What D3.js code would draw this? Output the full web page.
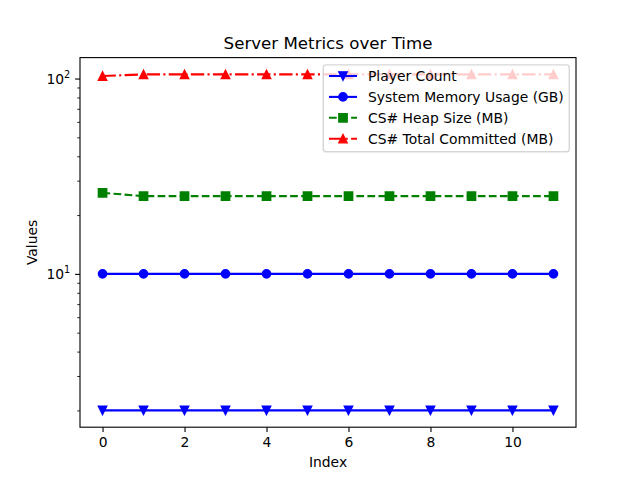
<!DOCTYPE html>
<html>
<head>
<meta charset="utf-8">
<script src="https://cdn.jsdelivr.net/npm/d3@7"></script>
<style>
body{margin:0;background:#fff;}
text{font-family:"DejaVu Sans",sans-serif;}
</style>
</head>
<body>
<svg id="chart" width="640" height="480"></svg>
<script>
const indices = [0,1,2,3,4,5,6,7,8,9,10,11];
const playerCount = [2,2,2,2,2,2,2,2,2,2,2,2];
const systemMemory = [10,10,10,10,10,10,10,10,10,10,10,10];
const heapSize = [26,25,25,25,25,25,25,25,25,25,25,25];
const totalCommitted = [103,105,105,105,105,105,105,105,105,105,105,105];
const seriesNames = ["Player Count","System Memory Usage (GB)","CS# Heap Size (MB)","CS# Total Committed (MB)"];
const xTicks = [0,2,4,6,8,10];

const PT=100/72;
const FS=10*PT;
const series = [
  {name:seriesNames[0], values:playerCount, color:"blue", dash:null, marker:"tdown"},
  {name:seriesNames[1], values:systemMemory, color:"blue", dash:null, marker:"circle"},
  {name:seriesNames[2], values:heapSize, color:"green", dash:`${5.55*PT},${2.4*PT}`, marker:"square"},
  {name:seriesNames[3], values:totalCommitted, color:"red", dash:`${9.6*PT},${2.4*PT},${1.5*PT},${2.4*PT}`, marker:"tup"}
];

const L=80,R=576,T=57.6,B=427.2;
const svg=d3.select("#chart");
const allVals=[].concat(playerCount,systemMemory,heapSize,totalCommitted);
const lmin=Math.log10(d3.min(allVals)), lmax=Math.log10(d3.max(allVals));
const m=(lmax-lmin)*0.05;
const y=d3.scaleLog().domain([Math.pow(10,lmin-m),Math.pow(10,lmax+m)]).range([B,T]);
const xm=(d3.max(indices)-d3.min(indices))*0.05;
const x=d3.scaleLinear().domain([d3.min(indices)-xm,d3.max(indices)+xm]).range([L,R]);

const plot=svg.append("g");
svg.append("clipPath").attr("id","clip").append("rect").attr("x",L).attr("y",T).attr("width",R-L).attr("height",B-T);

function markerPath(type,cx,cy){
  const s=3*PT;
  if(type==="tup") return `M${cx},${cy-s}L${cx-s},${cy+s}L${cx+s},${cy+s}Z`;
  if(type==="tdown") return `M${cx},${cy+s}L${cx-s},${cy-s}L${cx+s},${cy-s}Z`;
  if(type==="square") return `M${cx-s},${cy-s}h${2*s}v${2*s}h${-2*s}Z`;
  return `M${cx+s},${cy}A${s},${s} 0 1,1 ${cx-s},${cy}A${s},${s} 0 1,1 ${cx+s},${cy}Z`;
}

const line=d3.line().x((d,i)=>x(indices[i])).y(d=>y(d));
series.forEach(s=>{
  const g=plot.append("g").attr("clip-path","url(#clip)");
  g.append("path").attr("d",line(s.values)).attr("fill","none").attr("stroke",s.color)
   .attr("stroke-width",1.5*PT).attr("stroke-dasharray",s.dash).attr("stroke-linecap","butt");
  g.selectAll("path.mk").data(s.values).enter().append("path").attr("class","mk")
   .attr("d",(d,i)=>markerPath(s.marker,x(indices[i]),y(d)))
   .attr("fill",s.color).attr("stroke",s.color).attr("stroke-width",PT);
});

// axes
const xAxis=svg.append("g").attr("transform",`translate(0,${B})`)
  .call(d3.axisBottom(x).tickValues(xTicks).tickSize(3.5*PT).tickPadding(3.5*PT).tickFormat(d3.format("d")));
xAxis.select(".domain").remove();
xAxis.selectAll("text").attr("font-size",FS+"px").attr("fill","#000").attr("font-family","DejaVu Sans");
xAxis.selectAll("line").attr("stroke","#000").attr("stroke-width",0.8*PT);

const [d0,d1]=y.domain();
const minor=[];
for(let e=Math.floor(Math.log10(d0));e<=Math.ceil(Math.log10(d1));e++){
  for(let k=2;k<=9;k++){const v=k*Math.pow(10,e); if(v>=d0&&v<=d1) minor.push(v);}
}
const major=[];
for(let e=Math.floor(Math.log10(d0));e<=Math.ceil(Math.log10(d1));e++){const v=Math.pow(10,e); if(v>=d0&&v<=d1) major.push(v);}
const yMinor=svg.append("g").attr("transform",`translate(${L},0)`)
  .call(d3.axisLeft(y).tickValues(minor).tickSize(2*PT).tickFormat(""));
yMinor.select(".domain").remove();
yMinor.selectAll("line").attr("stroke","#000").attr("stroke-width",0.6*PT);
const yMajor=svg.append("g").attr("transform",`translate(${L},0)`)
  .call(d3.axisLeft(y).tickValues(major).tickSize(3.5*PT).tickFormat(""));
yMajor.select(".domain").remove();
yMajor.selectAll("line").attr("stroke","#000").attr("stroke-width",0.8*PT);
major.forEach(v=>{
  const t=svg.append("text").attr("x",L-7*PT).attr("y",y(v)+5).attr("text-anchor","end")
    .attr("font-size",FS+"px").attr("fill","#000");
  t.append("tspan").text("10");
  t.append("tspan").attr("font-size","9.7px").attr("dy","-5.8").text(Math.round(Math.log10(v)));
});

svg.append("rect").attr("x",L).attr("y",T).attr("width",R-L).attr("height",B-T)
  .attr("fill","none").attr("stroke","#000").attr("stroke-width",0.8*PT);

// labels
svg.append("text").attr("x",(L+R)/2).attr("y",49.3).attr("text-anchor","middle").attr("font-size",(12*PT)+"px").text("Server Metrics over Time");
svg.append("text").attr("x",(L+R)/2).attr("y",467).attr("text-anchor","middle").attr("font-size",FS+"px").text("Index");
svg.append("text").attr("transform",`translate(37,${(T+B)/2}) rotate(-90)`).attr("text-anchor","middle").attr("font-size",FS+"px").text("Values");

// legend
const lg=svg.append("g");
const lx=323.3, ly=64.9, lw=246, lh=86.8;
lg.append("rect").attr("x",lx).attr("y",ly).attr("width",lw).attr("height",lh).attr("rx",2.8)
  .attr("fill","#fff").attr("fill-opacity",0.8).attr("stroke","#cccccc").attr("stroke-opacity",0.8).attr("stroke-width",PT);
series.forEach((s,i)=>{
  const cy=76+i*20.9;
  lg.append("line").attr("x1",329).attr("x2",357).attr("y1",cy).attr("y2",cy).attr("stroke",s.color)
    .attr("stroke-width",1.5*PT).attr("stroke-dasharray",s.dash);
  lg.append("path").attr("d",markerPath(s.marker,343,cy)).attr("fill",s.color).attr("stroke",s.color).attr("stroke-width",PT);
  lg.append("text").attr("x",368).attr("y",cy+5).attr("font-size",FS+"px").text(s.name);
});
</script>
</body>
</html>
